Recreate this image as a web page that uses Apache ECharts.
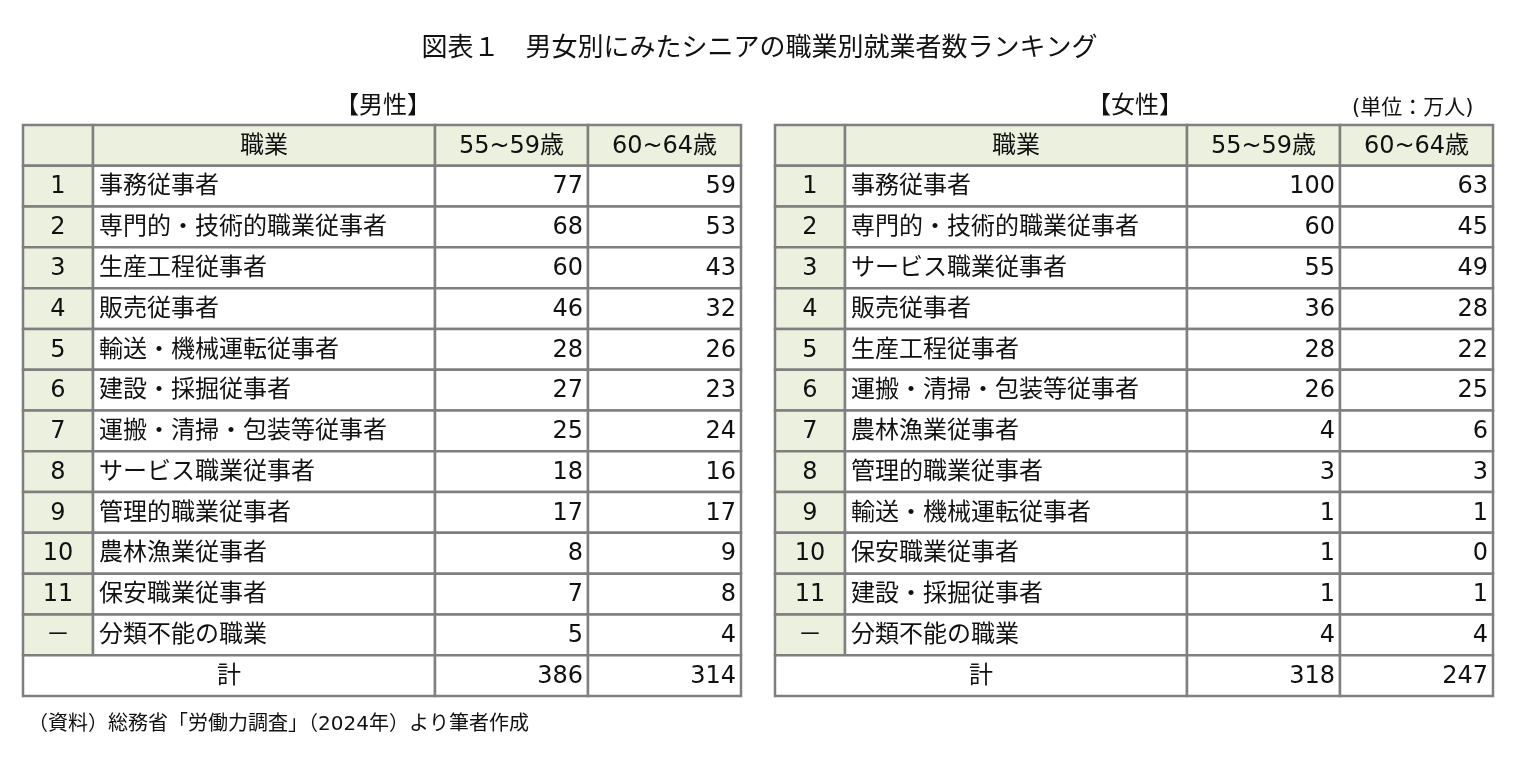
<!DOCTYPE html>
<html><head><meta charset="utf-8">
<script src="https://cdn.jsdelivr.net/npm/echarts@6/dist/echarts.min.js"></script>
<style>html,body{margin:0;padding:0;background:#fff}#c{width:1519px;height:765px}</style>
</head><body><div id="c"></div>
<script>
const headers = ['', '職業', '55~59歳', '60~64歳'];
const ranks = ['1','2','3','4','5','6','7','8','9','10','11','－'];
const maleJobs = ['事務従事者','専門的・技術的職業従事者','生産工程従事者','販売従事者','輸送・機械運転従事者','建設・採掘従事者','運搬・清掃・包装等従事者','サービス職業従事者','管理的職業従事者','農林漁業従事者','保安職業従事者','分類不能の職業'];
const male5559 = [77,68,60,46,28,27,25,18,17,8,7,5];
const male6064 = [59,53,43,32,26,23,24,16,17,9,8,4];
const maleTotal = [386,314];
const femaleJobs = ['事務従事者','専門的・技術的職業従事者','サービス職業従事者','販売従事者','生産工程従事者','運搬・清掃・包装等従事者','農林漁業従事者','管理的職業従事者','輸送・機械運転従事者','保安職業従事者','建設・採掘従事者','分類不能の職業'];
const female5559 = [100,60,55,36,28,26,4,3,1,1,1,4];
const female6064 = [63,45,49,28,22,25,6,3,1,0,1,4];
const femaleTotal = [318,247];

const colEdges = [0,70,412,565,718];
const HDR = '#EBF1DE';
function cells(jobs, a, b, tot){
  const out = [];
  headers.forEach((h,i)=>out.push([colEdges[i],colEdges[i+1],0,h,'center',HDR]));
  jobs.forEach((j,r)=>{
    out.push([colEdges[0],colEdges[1],r+1,ranks[r],'center',HDR]);
    out.push([colEdges[1],colEdges[2],r+1,j,'left','#fff']);
    out.push([colEdges[2],colEdges[3],r+1,String(a[r]),'right','#fff']);
    out.push([colEdges[3],colEdges[4],r+1,String(b[r]),'right','#fff']);
  });
  out.push([colEdges[0],colEdges[2],13,'計','center','#fff']);
  out.push([colEdges[2],colEdges[3],13,String(tot[0]),'right','#fff']);
  out.push([colEdges[3],colEdges[4],13,String(tot[1]),'right','#fff']);
  return out;
}
const FONT = '"DejaVu Sans","Noto Sans CJK JP",sans-serif';
function renderItem(params, api){
  const x0=api.value(0), x1=api.value(1), r=api.value(2);
  const d = params.dataIndex;
  const item = params.seriesIndex===0 ? mData[d] : fData[d];
  const p0 = api.coord([x0, r]), p1 = api.coord([x1, r+1]);
  const w = p1[0]-p0[0], h = p1[1]-p0[1];
  const align = item[4];
  let tx = align==='center' ? p0[0]+w/2 : align==='left' ? p0[0]+6 : p1[0]-5;
  return {type:'group',children:[
    {type:'rect',shape:{x:p0[0],y:p0[1],width:w,height:h},style:{fill:item[5],stroke:'#7f7f7f',lineWidth:2.5}},
    {type:'text',style:{x:tx,y:p0[1]+h/2+1,text:item[3],align:align,verticalAlign:'middle',font:'24px '+FONT,fill:'#111'}}
  ]};
}
const mData = cells(maleJobs, male5559, male6064, maleTotal);
const fData = cells(femaleJobs, female5559, female6064, femaleTotal);
const ax = (i)=>({gridIndex:i,type:'value',min:0,max:718,show:false});
const ay = (i)=>({gridIndex:i,type:'value',min:0,max:14,inverse:true,show:false});
const chart = echarts.init(document.getElementById('c'));
chart.setOption({
  animation:false,
  title:[
    {text:'図表１　男女別にみたシニアの職業別就業者数ランキング',left:'center',top:31,textStyle:{fontSize:26,fontWeight:'normal',color:'#111',fontFamily:FONT}},
    {text:'【男性】',left:330,top:90,textStyle:{fontSize:24,fontWeight:'normal',color:'#111',fontFamily:FONT}},
    {text:'【女性】',left:1082,top:90,textStyle:{fontSize:24,fontWeight:'normal',color:'#111',fontFamily:FONT}},
    {text:'(単位：万人)',left:1347,top:93,textStyle:{fontSize:21,fontWeight:'normal',color:'#111',fontFamily:FONT}},
    {text:'（資料）総務省「労働力調査」（2024年）より筆者作成',left:23,top:710,textStyle:{fontSize:20,fontWeight:'normal',color:'#111',fontFamily:FONT}}
  ],
  grid:[{left:23,top:125,width:718,height:571},{left:775,top:125,width:718,height:571}],
  xAxis:[ax(0),ax(1)], yAxis:[ay(0),ay(1)],
  series:[
    {type:'custom',xAxisIndex:0,yAxisIndex:0,renderItem,data:mData.map(c=>[c[0],c[1],c[2]]),encode:{x:[0,1],y:2},clip:false},
    {type:'custom',xAxisIndex:1,yAxisIndex:1,renderItem,data:fData.map(c=>[c[0],c[1],c[2]]),encode:{x:[0,1],y:2},clip:false}
  ]
});
</script></body></html>
